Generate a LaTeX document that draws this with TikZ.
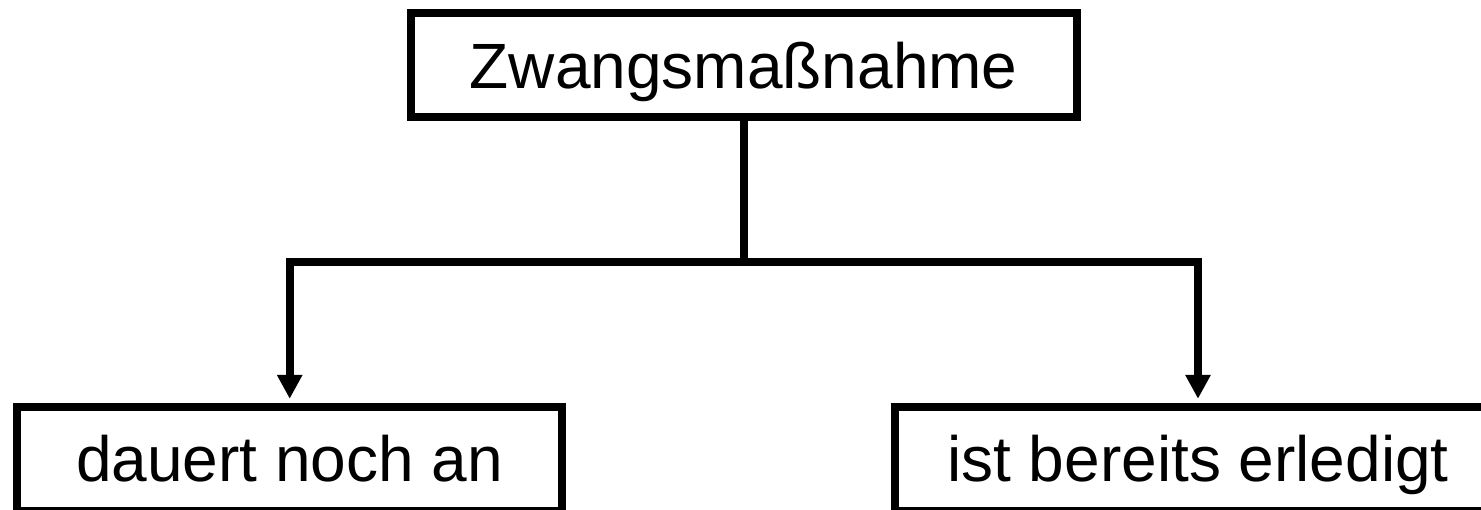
\documentclass[tikz,border=0pt]{standalone}
\usepackage{fontspec}
\setmainfont{Liberation Sans}
\usetikzlibrary{arrows.meta}

\begin{document}
\begin{tikzpicture}[x=0.5pt,y=-0.5pt,line width=4pt,
                    >={Triangle[length=12pt,width=12pt]},shorten >=2pt,
                    box/.style={shape=rectangle,draw,inner sep=0pt,minimum height=52pt,
                                text height=22.9pt,text depth=0pt,
                                font=\fontsize{32}{38}\selectfont}]
  \node[box,minimum width=333pt]   (A) at (743.7,65.2)  {Zwangsmaßnahme};
  \node[box,minimum width=272.4pt] (B) at (289.7,458.8) {dauert noch an};
  \node[box,minimum width=303.3pt] (C) at (1198,458.8)  {ist bereits erledigt};
  \coordinate (J) at (743.7,262);
  \draw (A) -- (J);
  \draw[->] (J) -| (B);
  \draw[->] (J) -| (C);
  % the page is cut like the original
  \pgfresetboundingbox
  \useasboundingbox (0,0) rectangle (1481,509);
\end{tikzpicture}
\end{document}
